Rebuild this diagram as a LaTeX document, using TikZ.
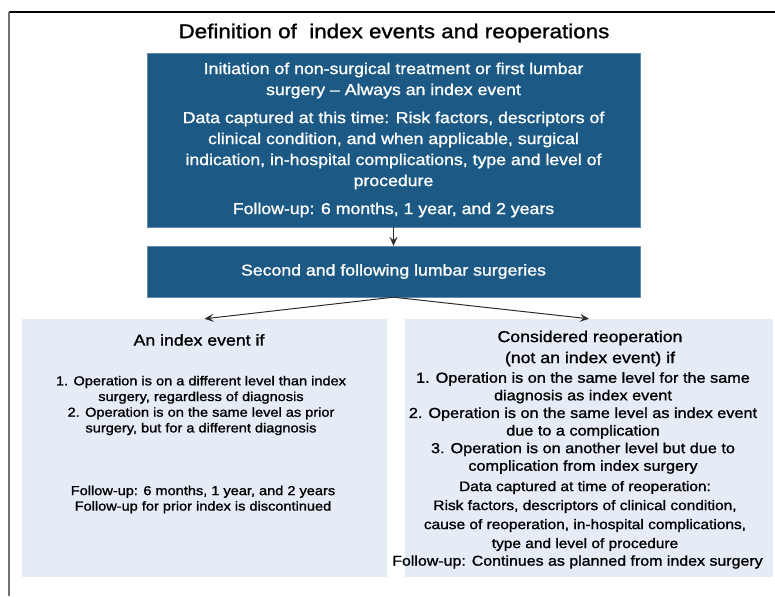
\documentclass[tikz,border=0pt]{standalone}
\usepackage{fontspec}
\setmainfont{Liberation Sans}[FakeStretch=1.12, FakeBold=1.2]
\usetikzlibrary{arrows.meta}
\definecolor{navy}{RGB}{28,90,133}
\definecolor{pale}{RGB}{230,236,246}
\definecolor{edge}{RGB}{45,45,45}

\begin{document}
\begin{tikzpicture}[x=1pt, y=-1pt,
    darkbox/.style={fill=navy, draw=navy!70!white, minimum width=493pt, text=white, align=center, font=\fontsize{15.8}{21}\selectfont, inner sep=0pt},
    lightbox/.style={fill=pale, minimum height=258pt, inner sep=0pt},
    head/.style={align=center, font=\fontsize{15.8}{21}\selectfont},
    body/.style={align=center, font=\fontsize{13}{15.7}\selectfont},
    link/.style={-{Stealth[length=9pt,width=8pt,inset=3.5pt]}, draw=edge, line width=1pt}]
    \useasboundingbox (0,0) rectangle (775,596);
    % Frame
    \draw[black, line width=1.2pt] (9,12) -- (775,12);
    \draw[black!55, line width=2pt] (9,12) -- (9,596);

    % Nodes
    \node[font=\fontsize{20}{24}\selectfont] (title) at (394,33) {Definition of\ \ index events and reoperations};
    \node[darkbox, minimum height=174pt] (I) at (393.5,140) {Initiation of non-surgical treatment or first lumbar\\
        surgery – Always an index event\\[7pt]
        Data captured at this time: Risk factors, descriptors of\\
        clinical condition, and when applicable, surgical\\
        indication, in-hospital complications, type and level of\\
        procedure\\[7pt]
        Follow-up: 6 months, 1 year, and 2 years};
    \node[darkbox, minimum height=51pt] (S) at (393.5,271.5) {Second and following lumbar surgeries};

    \node[lightbox, minimum width=365pt] (A) at (204.5,448) {};
    \node[lightbox, minimum width=368pt] (R) at (589,448) {};

    % Left box text
    \node[head] (Ahead) at (199,340) {An index event if};
    \node[body] (Alist) at (201,405.5) {1. Operation is on a different level than index\\
        surgery, regardless of diagnosis\\
        2. Operation is on the same level as prior\\
        surgery, but for a different diagnosis};
    \node[body, font=\fontsize{13}{15.5}\selectfont] (Afollow) at (203,499.5) {Follow-up: 6 months, 1 year, and 2 years\\
        Follow-up for prior index is discontinued};

    % Right box text
    \node[head] (Rhead) at (590,348.5) {Considered reoperation\\(not an index event) if};
    \node[body, font=\fontsize{14.5}{17.6}\selectfont] (Rlist) at (583,423) {1. Operation is on the same level for the same\\
        diagnosis as index event\\
        2. Operation is on the same level as index event\\
        due to a complication\\
        3. Operation is on another level but due to\\
        complication from index surgery};
    \node[body, font=\fontsize{13.8}{19}\selectfont] (Rdata) at (585,516) {Data captured at time of reoperation:\\
        Risk factors, descriptors of clinical condition,\\
        cause of reoperation, in-hospital complications,\\
        type and level of procedure};
    \node[body, font=\fontsize{14.25}{17}\selectfont] (Rfollow) at (577.5,562) {Follow-up: Continues as planned from index surgery};

    % Connectors
    \draw[link] (I) -- (S);
    \draw[link] (S.south) -- (A.north);
    \draw[link] (S.south) -- (R.north);
\end{tikzpicture}
\end{document}
